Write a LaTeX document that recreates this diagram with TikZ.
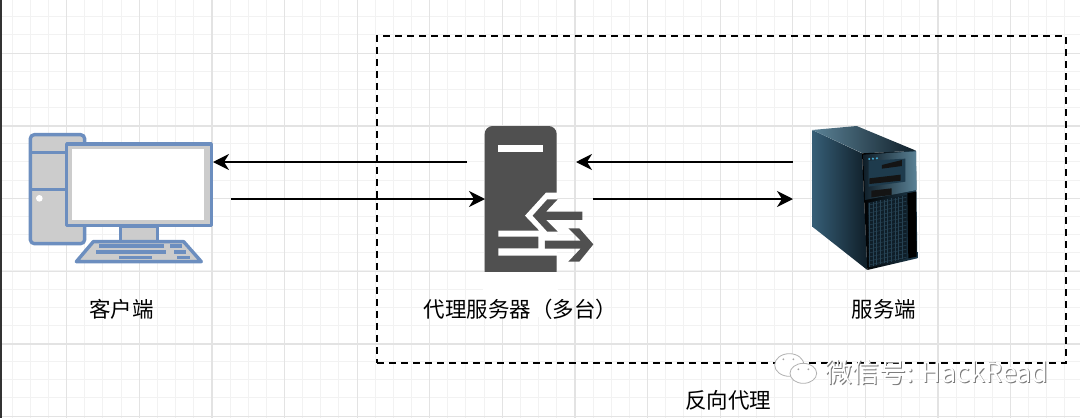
\documentclass[tikz,border=0pt]{standalone}
\usepackage{fontspec}
\setmainfont{Noto Sans CJK SC}
\usetikzlibrary{arrows.meta,shapes.geometric}
\definecolor{blueline}{HTML}{6C8EBF}
\definecolor{pcgrey}{HTML}{CCCCCC}
\definecolor{srvdark}{HTML}{505050}
\definecolor{wmgrey}{HTML}{7A7A7A}
\definecolor{teal1}{HTML}{365E76}
\definecolor{teal2}{HTML}{1E3B4D}
\definecolor{teal3}{HTML}{0F1E28}
\definecolor{teal4}{HTML}{5B8296}
\tikzset{
  x=1pt,y=-1pt,
  minorgrid/.style={draw=black!5,line width=1pt},
  majorgrid/.style={draw=black!11,line width=1.2pt},
  link/.style={draw=black,line width=1.7pt,-{Stealth[length=16pt,width=16pt,inset=5pt]}},
  pcpart/.style={draw=blueline,fill=pcgrey,line width=3.4pt,line join=round},
  pcline/.style={fill=blueline,draw=none},
  label/.style={font=\fontsize{21.5pt}{25pt}\selectfont,inner sep=0pt,text=black},
  frame/.style={draw=black,line width=1.8pt,dash pattern=on 7pt off 5pt},
  anchorbox/.style={draw=none,fill=none,inner sep=0pt,outer sep=0pt},
  zoomed/.style={x=0.3333pt,y=-0.3333pt},
  wmtext/.style={font=\fontsize{27pt}{30pt}\selectfont,inner sep=0pt,anchor=west},
}
\begin{document}
\begin{tikzpicture}
\useasboundingbox (0,0) rectangle (1080,418);
\fill[white] (0,0) rectangle (1080,418);
% grid
\foreach \k in {0,...,60}{\draw[minorgrid] ({12.2+18.15*\k},0) -- ({12.2+18.15*\k},418);}
\foreach \k in {0,...,23}{\draw[minorgrid] (0,{-1.4+18.15*\k}) -- (1080,{-1.4+18.15*\k});}
\foreach \k in {0,...,14}{\draw[majorgrid] ({66.7+72.6*\k},0) -- ({66.7+72.6*\k},418);}
\foreach \k in {0,...,5}{\draw[majorgrid] (0,{53.2+72.7*\k}) -- (1080,{53.2+72.7*\k});}
\fill[black!80] (0,0) rectangle (1.5,418);
% dashed frame
\node[frame,anchor=north west,minimum width=689pt,minimum height=327pt,inner sep=0pt] (box) at (376,35) {};
% anchors
\node[anchorbox,anchor=north west,minimum width=184pt,minimum height=130pt] (client) at (29,133) {};
\node[anchorbox,anchor=north west,minimum width=72pt,minimum height=146pt] (proxy) at (485,126) {};
\node[anchorbox,anchor=north west,minimum width=108pt,minimum height=146pt] (server) at (812,126) {};
% client computer
\begin{scope}[zoomed,shift={(0pt,-100pt)}]
  \draw[pcpart,rounded corners=4pt] (91,104) rectangle (254,431);
  \draw[blueline,line width=3pt] (91,158) -- (200,158);
  \draw[blueline,line width=3pt] (91,268) -- (200,268);
  \fill[white] (118,295) circle (10);
  \draw[pcpart] (200,132) rectangle (634,377);
  \fill[white] (215,147) rectangle (613,360);
  \draw[pcpart] (362,378) rectangle (472,424);
  \draw[pcpart] (280,425) -- (551,425) -- (604,485) -- (229,485) -- cycle;
  \fill[pcline] (298,433) rectangle (493,444);
  \fill[pcline] (510,433) rectangle (547,444);
  \fill[pcline] (287,450) rectangle (498,461);
  \fill[pcline] (521,450) rectangle (558,461);
  \fill[pcline] (357,467) rectangle (455,478);
  \fill[pcline] (532,467) rectangle (569,478);
\end{scope}
% proxy server
\begin{scope}[zoomed,shift={(460pt,-110pt)}]
  \fill[srvdark,rounded corners=8pt] (74,600) -- (74,48) -- (290,48) -- (290,600) -- cycle;
  \fill[white] (70,486) rectangle (295,620);
  \fill[white] (115,105) rectangle (248,125);
  \fill[white] (291,248) -- (258,248) -- (195,317) -- (238,362) -- (115,362) -- (115,380) -- (235,380) -- (235,415) -- (115,415) -- (115,437) -- (291,437) -- cycle;
  \fill[srvdark] (218,317) -- (262,268) -- (293,268) -- (258,305) -- (367,305) -- (367,330) -- (258,330) -- (293,365) -- (262,365) -- cycle;
  \fill[srvdark] (255,392) -- (362,392) -- (325,355) -- (358,355) -- (400,403) -- (358,455) -- (325,455) -- (362,416) -- (255,416) -- cycle;
\end{scope}
% tower server
\begin{scope}[zoomed,shift={(780pt,-110pt)}]
  \shade[left color=teal1,right color=teal3] (97,60) -- (97,350) -- (262,480) -- (246,130) -- cycle;
  \shade[left color=teal4,right color=teal3] (97,60) -- (230,48) -- (408,122) -- (248,130) -- cycle;
  \shade[left color=black,right color=teal2] (246,130) -- (408,122) -- (412,445) -- (262,480) -- cycle;
  \shade[left color=teal3,right color=teal4] (250,134) -- (408,124) -- (410,240) -- (255,270) -- cycle;
  \fill[teal2] (266,152) -- (376,146) -- (376,215) -- (266,230) -- cycle;
  \fill[black!92] (306,165) -- (366,150) -- (366,168) -- (306,176) -- cycle;
  \fill[black!92] (268,205) -- (362,194) -- (362,212) -- (268,222) -- cycle;
  \fill[black!92] (274,242) -- (335,235) -- (335,255) -- (274,262) -- cycle;
  \fill[cyan!70!gray] (268,147) circle (3.5) (279,146) circle (3.5) (291,145) circle (3.5);
  \fill[teal3] (264,278) -- (380,255) -- (380,445) -- (268,472) -- cycle;
  \foreach \t in {0,1,...,15}{\draw[teal1!70!black,line width=0.5pt] (266,{285+12*\t}) -- (379,{262+12*\t});}
  \foreach \t in {0,1,...,9}{\draw[teal1!70!black,line width=0.5pt] ({268+11*\t},{278-2.2*\t}) -- ({268+11*\t},{470-2.4*\t});}
  \fill[black] (382,250) -- (408,245) -- (410,440) -- (385,445) -- cycle;
\end{scope}
% connector ends
\coordinate (a1s) at (467,162);
\coordinate (a1e) at (client.east |- a1s);
\coordinate (a2s) at (231,199);
\coordinate (a2e) at (proxy.west |- a2s);
\coordinate (a3s) at (793,162);
\coordinate (a3e) at (576,162);
\coordinate (a4s) at (593,199);
\coordinate (a4e) at (793,199);
\draw[link] (a1s) -- (a1e);
\draw[link] (a2s) -- (a2e);
\draw[link] (a3s) -- (a3e);
\draw[link] (a4s) -- (a4e);
% labels
\node[label] (lclient) at (121.5,309) {客户端};
\node[label] (lproxy) at (520.5,309) {代理服务器（多台）};
\node[label] (lserver) at (884,309) {服务端};
\node[label] (lrev) at (728,400) {反向代理};
% watermark
\begin{scope}[zoomed,shift={(760pt,-330pt)}]
  \draw[black!30,fill=white,line width=0.8pt] (88,105) ellipse (44 and 34);
  \draw[black!30,fill=white,line width=0.8pt] (130,130) ellipse (40 and 30);
  \fill[black!35] (70,88) circle (3) (100,88) circle (3) (115,118) circle (3) (145,118) circle (3);
\end{scope}
\node[wmtext,text=wmgrey] (wm0) at (825.9,372.9) {微信号: HackRead};
\node[wmtext,text=white] (wm) at (825,372) {微信号: HackRead};
\end{tikzpicture}
\end{document}
